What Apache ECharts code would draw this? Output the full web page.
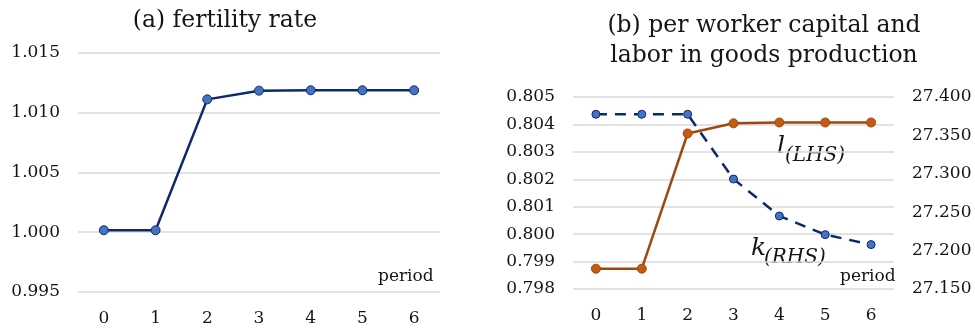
<!DOCTYPE html>
<html>
<head>
<meta charset="utf-8">
<script src="https://cdn.jsdelivr.net/npm/echarts@6/dist/echarts.min.js"></script>
<style>
  html, body { margin: 0; padding: 0; background: #fff; }
  #chart { width: 975px; height: 329px; }
</style>
</head>
<body>
<div id="chart"></div>
<script>
const periods = ['0', '1', '2', '3', '4', '5', '6']
const fertility = [1.00017, 1.00017, 1.01112, 1.01185, 1.01188, 1.01188, 1.01188]
const laborL = [0.79874, 0.79874, 0.80367, 0.80404, 0.80407, 0.80407, 0.80407]
const capitalK = [27.3775, 27.3775, 27.3775, 27.2932, 27.2451, 27.2208, 27.2078]

const font = 'DejaVu Serif'
const ink = '#151515'
const gridColor = '#d9d9d9'
const navy = '#0c2a6a'
const blueFill = '#4472c4'
const brown = '#9e480e'
const orangeFill = '#c55a11'

const chart = echarts.init(document.getElementById('chart'))

const xAxisBase = {
  type: 'category',
  data: periods,
  boundaryGap: true,
  axisLine: { show: false },
  axisTick: { show: false },
  axisLabel: { fontFamily: font, fontSize: 17, color: ink, margin: 18 },
}

const yLabel = { fontFamily: font, fontSize: 17, color: ink, margin: 18, formatter: v => v.toFixed(3) }

// small text pieces placed on the canvas (labels, not marks)
const txt = (text, left, top, size, italic) => ({
  type: 'text', left, top,
  style: { text, font: (italic ? 'italic ' : '') + size + 'px "DejaVu Serif"', fill: ink },
})

chart.setOption({
  animation: false,
  title: [
    {
      text: '(a) fertility rate',
      left: 220, top: 4, textAlign: 'center',
      textStyle: { fontFamily: font, fontSize: 23.5, fontWeight: 'normal', color: ink },
    },
    {
      text: '(b) per worker capital and\nlabor in goods production',
      left: 759, top: 6, textAlign: 'center',
      textStyle: { fontFamily: font, fontSize: 23.5, fontWeight: 'normal', color: ink, lineHeight: 30 },
    },
  ],
  grid: [
    { left: 78, right: 535, top: 53, bottom: 37 },
    { left: 573, right: 81, top: 97, bottom: 40 },
  ],
  xAxis: [
    { ...xAxisBase, gridIndex: 0 },
    { ...xAxisBase, gridIndex: 1 },
  ],
  yAxis: [
    {
      gridIndex: 0, type: 'value', min: 0.995, max: 1.015, interval: 0.005,
      axisLabel: yLabel,
      splitLine: { lineStyle: { color: gridColor, width: 1.5 } },
    },
    {
      gridIndex: 1, type: 'value', min: 0.798, max: 0.805, interval: 0.001,
      axisLabel: yLabel,
      splitLine: { lineStyle: { color: gridColor, width: 1.5 } },
    },
    {
      gridIndex: 1, type: 'value', position: 'right', min: 27.15, max: 27.4, interval: 0.05,
      axisLabel: yLabel,
      splitLine: { show: false },
    },
  ],
  series: [
    {
      type: 'line', xAxisIndex: 0, yAxisIndex: 0, data: fertility,
      symbol: 'circle', symbolSize: 9,
      lineStyle: { color: navy, width: 2.5 },
      itemStyle: { color: blueFill, borderColor: navy, borderWidth: 1 },
    },
    {
      type: 'line', xAxisIndex: 1, yAxisIndex: 1, data: laborL,
      symbol: 'circle', symbolSize: 9,
      lineStyle: { color: brown, width: 2.5 },
      itemStyle: { color: orangeFill, borderColor: brown, borderWidth: 1 },
      z: 3,
    },
    {
      type: 'line', xAxisIndex: 1, yAxisIndex: 2, data: capitalK,
      symbol: 'circle', symbolSize: 8,
      lineStyle: { color: navy, width: 2.5, type: [11, 8] },
      itemStyle: { color: blueFill, borderColor: navy, borderWidth: 1 },
      z: 2,
    },
  ],
  graphic: [
    txt('period', 378, 268, 17),
    txt('period', 840, 268, 17),
    txt('l', 777, 134, 25, true),
    txt('(LHS)', 785, 146, 20, true),
    txt('k', 751, 236, 25, true),
    txt('(RHS)', 764, 248, 20, true),
  ],
})
</script>
</body>
</html>
